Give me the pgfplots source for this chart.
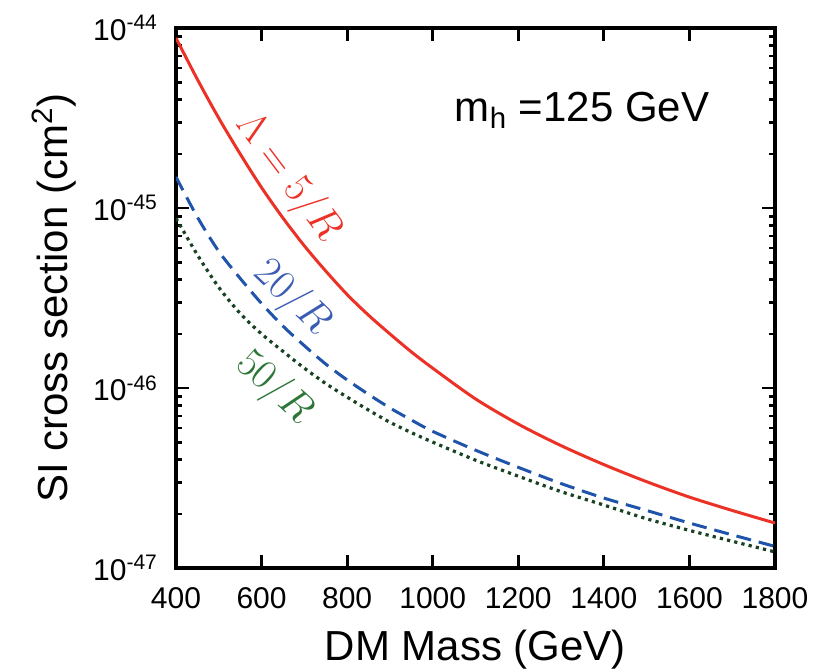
\documentclass[border=0pt]{standalone}
\usepackage{fontspec}
\setmainfont{Liberation Sans}
\usepackage{pgfplots}
\pgfplotsset{compat=1.18}
\definecolor{cred}{RGB}{236,50,38}
\definecolor{cblue}{RGB}{32,84,170}
\definecolor{cgreen}{RGB}{24,66,34}
\definecolor{lblue}{RGB}{58,92,178}
\definecolor{lgreen}{RGB}{46,118,56}
\begin{document}
\begin{tikzpicture}
\useasboundingbox (-88pt,-52pt) rectangle (324.5pt,284pt);
\begin{axis}[
  at={(0,0)}, anchor=south west,
  scale only axis, width=299.5pt, height=270pt,
  xmin=400, xmax=1800, ymin=1e-47, ymax=1e-44,
  ymode=log,
  xtick={400,600,...,1800},
  ytick={1e-47,1e-46,1e-45,1e-44},
  yticklabels={10\textsuperscript{-47},10\textsuperscript{-46},10\textsuperscript{-45},10\textsuperscript{-44}},
  /pgf/number format/assume math mode=true,
  /pgf/number format/1000 sep={},
  tick align=inside, xtick pos=both, ytick pos=both,
  major tick length=6.5pt, minor tick length=3.2pt,
  every tick/.style={black, line width=1.4pt},
  axis line style={line width=1.8pt},
  tick label style={font=\fontsize{15}{18}\selectfont},
  xticklabel shift=6pt, yticklabel shift=5.5pt,
  every axis x label/.style={at={(axis description cs:0.5,-0.1704)}, anchor=base, font=\fontsize{21}{25}\selectfont},
  every axis y label/.style={at={(axis description cs:-0.1803,0.5)}, anchor=base, rotate=90, font=\fontsize{21}{25}\selectfont},
  xlabel={DM Mass (GeV)},
  ylabel={SI cross section (cm\textsuperscript{2})},
  clip=true,
]
\addplot[cred, line width=1.5pt, smooth] coordinates {
(400,8.81e-45) (450,5.19e-45) (500,3.16e-45) (550,2.00e-45) (600,1.30e-45)
(650,8.81e-46) (700,6.17e-46) (750,4.47e-46) (800,3.31e-46) (850,2.54e-46) (900,2.00e-46)
(950,1.59e-46) (1000,1.29e-46) (1100,8.71e-47) (1200,6.31e-47) (1300,4.79e-47) (1400,3.76e-47)
(1500,3.02e-47) (1600,2.48e-47) (1700,2.09e-47) (1800,1.78e-47)};
\addplot[cblue, line width=1.5pt, smooth, dash pattern=on 7.5pt off 4pt] coordinates {
(400,1.49e-45) (450,8.91e-46) (500,5.75e-46) (550,4.07e-46) (600,2.95e-46)
(650,2.21e-46) (700,1.72e-46) (750,1.36e-46) (800,1.11e-46) (850,9.23e-47) (900,7.76e-47)
(950,6.65e-47) (1000,5.75e-47) (1100,4.52e-47) (1200,3.63e-47) (1300,2.95e-47) (1400,2.45e-47)
(1500,2.09e-47) (1600,1.78e-47) (1700,1.53e-47) (1800,1.32e-47)};
\addplot[cgreen, line width=1.6pt, smooth, dash pattern=on 1.6pt off 2.1pt] coordinates {
(400,8.79e-46) (450,5.50e-46) (500,3.63e-46) (550,2.60e-46) (600,2.00e-46)
(650,1.60e-46) (700,1.29e-46) (750,1.06e-46) (800,8.91e-47) (850,7.55e-47) (900,6.46e-47)
(950,5.66e-47) (1000,5.01e-47) (1100,3.98e-47) (1200,3.24e-47) (1300,2.66e-47) (1400,2.24e-47)
(1500,1.88e-47) (1600,1.62e-47) (1700,1.41e-47) (1800,1.23e-47)};
\node[font=\fontsize{21}{25}\selectfont] at (axis cs:1349,3.5e-45) {m\textsubscript{h} =125 GeV};
\node[cred, rotate=-53, font=\fontsize{22}{26}\selectfont] at (axis cs:662,1.47e-45) {$\Lambda = 5/R$};
\node[lblue, rotate=-44, font=\fontsize{22}{26}\selectfont] at (axis cs:671,3.16e-46) {$20/R$};
\node[lgreen, rotate=-42, font=\fontsize{22}{26}\selectfont] at (axis cs:629,1.0e-46) {$50/R$};
\end{axis}
\end{tikzpicture}
\end{document}
